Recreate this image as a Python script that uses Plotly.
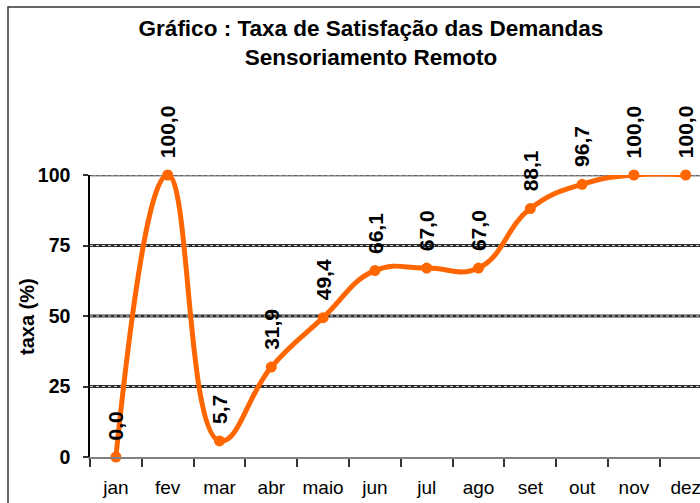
import plotly.graph_objects as go

# Monthly satisfaction rate (%) for remote sensing requests
months = ["jan", "fev", "mar", "abr", "maio", "jun", "jul", "ago", "set", "out", "nov", "dez"]
taxa = [0.0, 100.0, 5.7, 31.9, 49.4, 66.1, 67.0, 67.0, 88.1, 96.7, 100.0, 100.0]
y_ticks = [0, 25, 50, 75, 100]

FONT = "Liberation Sans, Arial, Helvetica, sans-serif"
ORANGE = "#FF6600"

W, H = 700, 503
L, R, T, B = 90, 0, 175, 46
plot_w = W - L - R
plot_h = H - T - B

fig = go.Figure()
fig.add_trace(go.Scatter(
    x=months, y=taxa,
    mode="lines+markers",
    line=dict(color=ORANGE, width=5, shape="spline", smoothing=1.3),
    marker=dict(color=ORANGE, size=11),
    cliponaxis=False,
    hoverinfo="skip",
))

# Value labels, rotated, above each point
annotations = []
for m, v in zip(months, taxa):
    annotations.append(dict(
        x=m, y=v, xref="x", yref="y",
        text=f"{v:.1f}".replace(".", ","),
        showarrow=False, textangle=-90,
        xanchor="center", yanchor="bottom", yshift=15,
        font=dict(family=FONT, size=21, color="black", weight="bold"),
    ))

# Axis title (pixel position converted to plot-area paper coords)
annotations.append(dict(
    x=(27 - L) / plot_w, y=(H - B - 316) / plot_h,
    xref="paper", yref="paper",
    text="taxa (%)", showarrow=False, textangle=-90,
    xanchor="center", yanchor="middle",
    font=dict(family=FONT, size=20, color="black", weight="bold"),
))

shapes = []
# Horizontal gridlines
for v in y_ticks[1:]:
    base = "#8a8a8a" if v == 100 else "#2e2e2e"
    dots = "#3a3a3a" if v == 100 else "#d8d8d8"
    shapes.append(dict(type="line", xref="paper", yref="y", x0=0, x1=1.2, y0=v, y1=v,
                       line=dict(color=base, width=3), layer="below"))
    shapes.append(dict(type="line", xref="paper", yref="y", x0=0, x1=1.2, y0=v, y1=v,
                       line=dict(color=dots, width=1, dash="dot"), layer="below"))

# Outer chart frame
shapes.append(dict(type="rect", xref="paper", yref="paper",
                   x0=(8 - L) / plot_w, x1=1.2,
                   y0=(H - B - 520) / plot_h, y1=(H - B - 7) / plot_h,
                   line=dict(color="#333333", width=1.5), fillcolor="rgba(0,0,0,0)"))

fig.update_layout(
    width=W, height=H,
    margin=dict(l=L, r=R, t=T, b=B, pad=0, autoexpand=False),
    paper_bgcolor="white", plot_bgcolor="white",
    showlegend=False,
    title=dict(
        text="Gráfico : Taxa de Satisfação das Demandas<br>Sensoriamento Remoto",
        x=371 / W, xanchor="center", xref="container",
        y=1 - 36 / H, yanchor="middle", yref="container",
        font=dict(family=FONT, size=22.5, color="black", weight="bold"),
    ),
    xaxis=dict(
        type="category",
        range=[-0.5, -0.5 + plot_w / 51.8],
        tickson="boundaries",
        ticks="outside", ticklen=8, tickwidth=1.5, tickcolor="#333333",
        showline=True, linecolor="#808080", linewidth=1.5,
        showgrid=False, zeroline=False,
        tickangle=0, automargin=False,
        tickfont=dict(family=FONT, size=19, color="black"),
        ticklabelstandoff=12,
    ),
    yaxis=dict(
        range=[0, 100],
        tickvals=y_ticks,
        ticks="outside", ticklen=5, tickwidth=1.5, tickcolor="#333333",
        showline=True, linecolor="black", linewidth=1.5,
        showgrid=False, zeroline=False, automargin=False,
        tickfont=dict(family=FONT, size=19.5, color="black", weight="bold"),
        ticklabelstandoff=9,
    ),
    shapes=shapes,
    annotations=annotations,
)

fig.write_html("out.html")
